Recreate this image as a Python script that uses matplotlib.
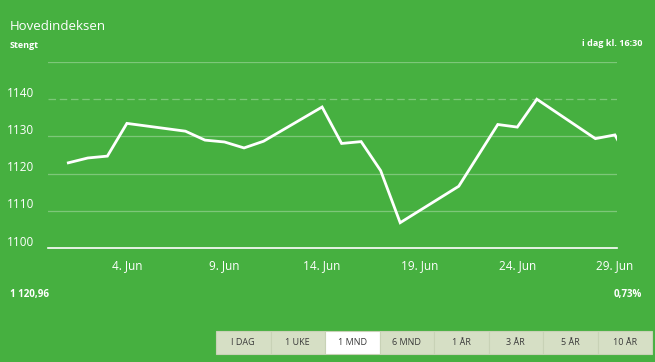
import datetime as dt
import matplotlib
matplotlib.use("Agg")
import matplotlib.pyplot as plt
import matplotlib.dates as mdates
import matplotlib.transforms as mtransforms
from matplotlib.patches import Rectangle

plt.rcParams['font.family'] = ['Open Sans', 'DejaVu Sans']

# data (Hovedindeksen, June)
days = [1, 2, 3, 4, 7, 8, 9, 10, 11, 14, 15, 16, 17, 18,
        21, 22, 23, 24, 25, 28, 29, 30]
closes = [1122.9, 1124.2, 1124.7, 1133.5, 1131.4, 1129.0, 1128.5, 1126.9,
          1128.7, 1137.9, 1128.1, 1128.6, 1120.8, 1106.8, 1116.6, 1124.9,
          1133.2, 1132.5, 1140.0, 1129.4, 1130.4, 1120.96]
tick_days = [4, 9, 14, 19, 24, 29]
tick_labels = ["4. Jun", "9. Jun", "14. Jun", "19. Jun", "24. Jun", "29. Jun"]
y_ticks = [1100, 1110, 1120, 1130, 1140]
buttons = ["I DAG", "1 UKE", "1 MND", "6 MND", "1 ÅR", "3 ÅR", "5 ÅR", "10 ÅR"]
selected = "1 MND"

GREEN = "#46B040"
dates = [dt.datetime(2021, 6, d) for d in days]

fig = plt.figure(figsize=(6.55, 3.62), dpi=100)
fig.patch.set_facecolor(GREEN)
ax = fig.add_axes([48 / 655, 1 - 248 / 362, 569 / 655, 186 / 362])
ax.set_facecolor(GREEN)

x0 = mdates.date2num(dt.datetime(2021, 5, 30, 23))
x1 = mdates.date2num(dt.datetime(2021, 6, 29, 2, 35))
ax.set_xlim(x0, x1)
ax.set_ylim(1100, 1150)

# grid lines
for v in [1110, 1120, 1130, 1150]:
    ax.axhline(v, color="white", alpha=0.3, lw=0.9, zorder=1)
ax.axhline(1140, color="white", alpha=0.3, lw=0.9, ls=(0, (6, 3)), zorder=1)

ax.plot(dates, closes, color="white", lw=2.0, solid_joinstyle="miter", zorder=3)

for s in ["top", "right", "left"]:
    ax.spines[s].set_visible(False)
ax.spines["bottom"].set_color("white")
ax.spines["bottom"].set_linewidth(1.2)

ax.set_xticks([mdates.date2num(dt.datetime(2021, 6, d)) for d in tick_days])
ax.set_xticklabels(tick_labels, color="white", fontsize=8.5)
ax.tick_params(axis="x", length=0, pad=8)
ax.set_yticks([])

# y labels sit a little above their line, at the left edge
trans = mtransforms.blended_transform_factory(fig.transFigure, ax.transData)
trans = mtransforms.offset_copy(trans, fig=fig, y=6, units="dots")
for v in y_ticks:
    ax.text(7 / 655, v, str(v), transform=trans, color="white", fontsize=8.5,
            ha="left", va="center")

fig.text(10 / 655, 1 - 26 / 362, "Hovedindeksen", color="white", fontsize=9.5,
         ha="left", va="center")
fig.text(10 / 655, 1 - 45 / 362, "Stengt", color="white", fontsize=6.5,
         fontweight="bold", ha="left", va="center")
fig.text(642 / 655, 1 - 43 / 362, "i dag kl. 16:30", color="white", fontsize=6.5,
         fontweight="bold", ha="right", va="center")
fig.text(10 / 655, 1 - 295 / 362, "1 120,96", color="white", fontsize=7,
         fontweight="bold", ha="left", va="center")
fig.text(642 / 655, 1 - 295 / 362, "0,73%", color="white", fontsize=7,
         fontweight="bold", ha="right", va="center")

# range buttons along the bottom
bw = 54.5
bx = 216
for i, lab in enumerate(buttons):
    left = bx + i * bw
    fc = "white" if lab == selected else "#D6DFC5"
    fig.patches.append(Rectangle((left / 655, 1 - 354 / 362), bw / 655, 23 / 362,
                                 transform=fig.transFigure, facecolor=fc,
                                 edgecolor="#C8D2B6", lw=0.8))
    fig.text((left + bw / 2) / 655, 1 - 342.5 / 362, lab, color="#3a3a3a",
             fontsize=6.5, ha="center", va="center")

fig.savefig("out.png", dpi=100, facecolor=GREEN)
